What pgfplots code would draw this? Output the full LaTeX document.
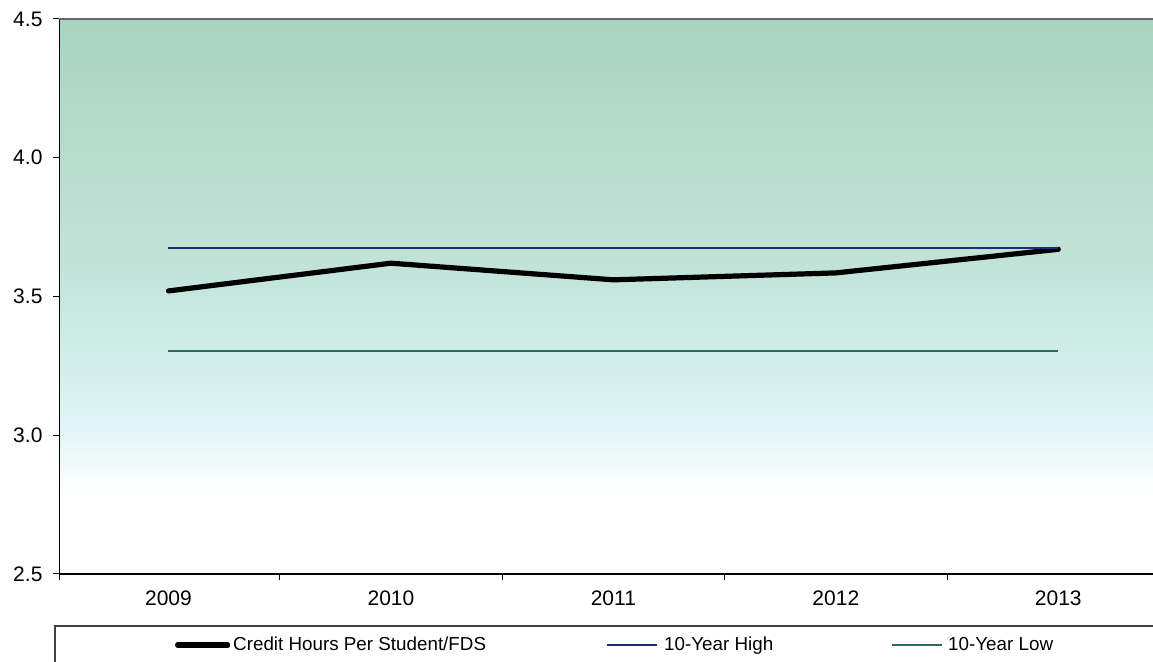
\documentclass[border=0pt]{standalone}
\usepackage{pgfplots}
\pgfplotsset{compat=1.18}
\usepackage{fontspec}
\setmainfont{Liberation Sans}
\definecolor{bga}{RGB}{170,211,192}
\definecolor{bgb}{RGB}{194,228,218}
\definecolor{bgc}{RGB}{222,244,246}
\definecolor{hicol}{RGB}{30,45,120}
\definecolor{locol}{RGB}{45,105,95}
\pgfdeclareverticalshading{bgshade}{100bp}{color(0bp)=(white); color(25bp)=(white); color(32bp)=(white); color(39bp)=(bgc); color(52bp)=(bgb); color(75bp)=(bga); color(100bp)=(bga)}
\begin{document}
\begin{tikzpicture}
\useasboundingbox (0,0) rectangle (576.5pt,331pt);
\clip (0,0) rectangle (576.5pt,331pt);
\begin{axis}[
  at={(29.75pt,44pt)}, anchor=south west,
  scale only axis, width=555pt, height=277.5pt,
  xmin=-0.49, xmax=4.5,
  ymin=2.5, ymax=4.5,
  axis x line*=bottom, axis y line*=left,
  axis line style={black, line width=0.6pt, -},
  axis background/.style={shading=bgshade},
  xtick={0,1,2,3,4},
  xticklabels={2009,2010,2011,2012,2013},
  major x tick style={draw=none},
  minor xtick={-0.49,0.5,1.5,2.5,3.5},
  minor tick length=3pt,
  ytick={2.5,3.0,3.5,4.0,4.5},
  /pgf/number format/fixed,
  /pgf/number format/fixed zerofill,
  /pgf/number format/precision=1,
  major tick length=3pt,
  tick align=outside,
  tick style={black, line width=0.5pt},
  /pgf/number format/assume math mode=true,
  ticklabel style={font=\fontsize{10.5}{12}\selectfont},
  xticklabel style={yshift=-2pt},
  yticklabel style={xshift=-2pt},
  legend columns=3,
  legend style={draw=none, fill=none, inner sep=0pt, outer sep=0pt,
    at={(0.1041,-0.128)}, anchor=west,
    font=\fontsize{9.4}{11}\selectfont,
    nodes={inner sep=0pt},
    /tikz/every even column/.style={column sep=0pt}},
  legend cell align=left,
  legend image code/.code={\draw[#1] (0pt,0pt) -- (25pt,0pt);},
]
\draw[gray!80!black, line width=0.6pt] (rel axis cs:0,1) -- (rel axis cs:1,1);
\addplot[black, line width=2.6pt, line join=round, line cap=round] coordinates {(0,3.52) (1,3.62) (2,3.56) (3,3.585) (4,3.67)};
\addlegendentry{\makebox[188pt][l]{\hspace{1.5pt}Credit Hours Per Student/FDS}}
\addplot[hicol, line width=1pt] coordinates {(0,3.675) (4,3.675)};
\addlegendentry{\makebox[116.5pt][l]{\hspace{3pt}10-Year High}}
\addplot[locol, line width=1pt] coordinates {(0,3.305) (4,3.305)};
\addlegendentry{\hspace{2.5pt}10-Year Low}
\end{axis}
\draw[black!75, line width=0.6pt] (27.5pt,18pt) rectangle (600pt,-10pt);
\end{tikzpicture}
\end{document}
